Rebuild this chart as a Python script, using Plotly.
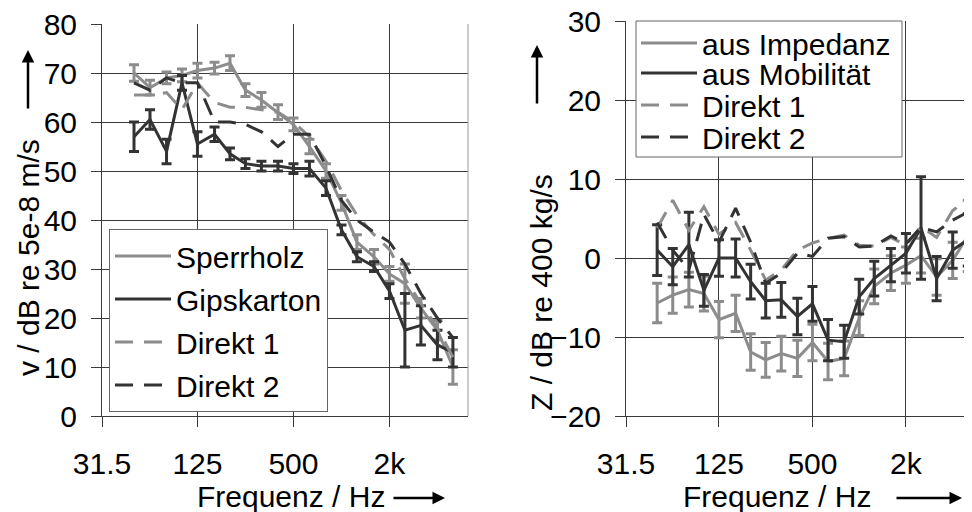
import plotly.graph_objects as go

# third-octave band centre frequencies (Hz)
freq = [50, 63, 80, 100, 125, 160, 200, 250, 315, 400, 500,
        630, 800, 1000, 1250, 1600, 2000, 2500, 3150, 4000, 5000]

# left panel: velocity level v / dB re 5e-8 m/s
sperrholz = [70, 67, 69, 69.5, 70.5, 71, 72, 66.5, 64.5, 62, 59.5,
             55, 50, 43.5, 35.5, 32.5, 29, 27, 22, 17.5, 10]
sperrholz_err = [1.7, 1.5, 1.2, 1.3, 1.5, 1.2, 1.5, 1.3, 1.5, 1.5, 1.3,
                 1.5, 1.5, 1.5, 1.5, 1.5, 1.5, 4, 2, 2, 3.5]
gipskarton = [57, 60.5, 54, 68, 55.5, 57.5, 53.5, 51.5, 51, 51, 50.5,
              50.5, 46.5, 38, 32.5, 30.5, 25.5, 17.5, 18.5, 14.5, 13]
gipskarton_err = [3, 2, 2.5, 1.5, 2.5, 1.5, 1.2, 1, 1, 1, 1,
                  1.5, 1.5, 1, 1, 1, 1.5, 7.5, 4, 3, 3]
direkt1_v = [65.5, 65.5, 66, 62.5, 68, 64, 63, 63, 62.5, 62, 60,
             57, 52, 46, 41, 37, 34, 28, 23, 18, 12]
direkt2_v = [68, 66.5, 69, 68, 68, 60, 60, 59.5, 58, 55, 57.5,
             57.5, 51, 44, 40, 37.5, 35.5, 31, 25, 20, 16]

# right panel: impedance Z / dB re 400 kg/s
aus_impedanz = [-5.7, -4.7, -4.0, -4.5, -7.8, -7.0, -11.9, -12.9, -12.1, -12.7, -10.7,
                -13.1, -12.7, -7.6, -3.6, -1.9, -0.9, 0.3, -2.4, -0.3, 2.8]
aus_impedanz_err = [2.5, 2.3, 2.2, 2.2, 2.3, 2.3, 2.3, 2.2, 2.2, 2.3, 2.3,
                    2.3, 2.2, 2.2, 2.2, 2.2, 2.3, 2.2, 2.3, 2.3, 4.5]
aus_mobilitaet = [1.0, -1.1, 1.7, -4.1, 0, 0, -3.0, -5.4, -5.3, -7.4, -5.8,
                  -10.4, -10.6, -4.9, -2.6, -0.9, 0.6, 3.8, -2.6, 1.0, 2.3]
aus_mobilitaet_err = [3.2, 2.3, 4.1, 2, 2.3, 2.4, 2.2, 2.2, 2.2, 2.3, 2.2,
                      2.6, 2.1, 2.2, 2.2, 2.1, 2.5, 6.5, 2.8, 2.3, 3.3]
direkt1_z = [3.8, 7.3, 3.5, 6.5, 3, 4.5, 1, -2.8, -1.5, 1, 1.9,
             2.5, 2.9, 1.6, 1.5, 2.6, 1.6, 4, 2.6, 6, 7.5]
direkt2_z = [4.5, 1, -1.5, 5.5, 2, 6.3, 2, -3.2, -1.9, 0.6, 0.2,
             2.5, 2.7, 1.4, 1.5, 2.8, 1.8, 3.9, 3.3, 4.8, 5.8]

tick_vals = [31.5, 125, 500, 2000]
tick_text = ['31.5', '125', '500', '2k']

LIGHT = '#8c8c8c'
DARK = '#333333'
FONT = 'Arial, Liberation Sans, sans-serif'
DASH = '18px,11px'
W, H = 972, 512
OFF = 8  # the page body adds an 8px margin, positions below are screen pixels


def px_x(p):
    return (p - OFF) / W


def px_y(p):
    return 1 - (p - OFF) / H


fig = go.Figure()

# left panel traces
fig.add_trace(go.Scatter(x=freq, y=sperrholz, name='Sperrholz', legendgroup='a',
                         line=dict(color=LIGHT, width=3), mode='lines',
                         error_y=dict(type='data', array=sperrholz_err, color=LIGHT,
                                      thickness=3, width=5)))
fig.add_trace(go.Scatter(x=freq, y=gipskarton, name='Gipskarton', legendgroup='b',
                         line=dict(color=DARK, width=3), mode='lines',
                         error_y=dict(type='data', array=gipskarton_err, color=DARK,
                                      thickness=3, width=5)))
fig.add_trace(go.Scatter(x=freq, y=direkt1_v, name='Direkt 1', legendgroup='c',
                         line=dict(color=LIGHT, width=3, dash=DASH), mode='lines'))
fig.add_trace(go.Scatter(x=freq, y=direkt2_v, name='Direkt 2', legendgroup='d',
                         line=dict(color=DARK, width=3, dash=DASH), mode='lines'))

# right panel traces, each in its own legend so the rows can sit tighter
fig.add_trace(go.Scatter(x=freq, y=aus_impedanz, name='aus Impedanz', legend='legend2',
                         xaxis='x2', yaxis='y2',
                         line=dict(color=LIGHT, width=3), mode='lines',
                         error_y=dict(type='data', array=aus_impedanz_err, color=LIGHT,
                                      thickness=3, width=5)))
fig.add_trace(go.Scatter(x=freq, y=aus_mobilitaet, name='aus Mobilität', legend='legend3',
                         xaxis='x2', yaxis='y2',
                         line=dict(color=DARK, width=3), mode='lines',
                         error_y=dict(type='data', array=aus_mobilitaet_err, color=DARK,
                                      thickness=3, width=5)))
fig.add_trace(go.Scatter(x=freq, y=direkt1_z, name='Direkt 1', legend='legend4',
                         xaxis='x2', yaxis='y2',
                         line=dict(color=LIGHT, width=3, dash=DASH), mode='lines'))
fig.add_trace(go.Scatter(x=freq, y=direkt2_z, name='Direkt 2', legend='legend5',
                         xaxis='x2', yaxis='y2',
                         line=dict(color=DARK, width=3, dash=DASH), mode='lines'))

axis_common = dict(showgrid=True, gridcolor='#3a3a3a', gridwidth=1,
                   showline=True, linecolor='#3a3a3a', linewidth=1,
                   ticks='outside', ticklen=10, tickcolor='#3a3a3a',
                   tickfont=dict(family=FONT, size=30, color='black'),
                   ticklabeloverflow='allow',
                   zeroline=False, automargin=False)

xcommon = dict(axis_common, type='log', tickvals=tick_vals, ticktext=tick_text,
               ticklabelstandoff=11)
ycommon = dict(axis_common, ticklabelstandoff=8)

fig.update_layout(
    width=W, height=H,
    margin=dict(l=0, r=0, t=0, b=0, pad=0, autoexpand=False),
    paper_bgcolor='white', plot_bgcolor='white',
    font=dict(family=FONT, size=30, color='black'),
    xaxis=dict(xcommon, domain=[px_x(102), px_x(468)], range=[1.4983, 3.7937]),
    yaxis=dict(ycommon, domain=[px_y(416), px_y(24)], range=[0, 80],
               tickvals=[0, 10, 20, 30, 40, 50, 60, 70, 80]),
    xaxis2=dict(xcommon, domain=[px_x(626), px_x(980)], range=[1.4983, 3.7778],
                anchor='y2'),
    yaxis2=dict(ycommon, domain=[px_y(416), px_y(21)], range=[-20, 30],
                tickvals=[-20, -10, 0, 10, 20, 30], anchor='x2'),
    legend=dict(x=px_x(109), y=px_y(229), xanchor='left', yanchor='top',
                bgcolor='white', bordercolor='#666', borderwidth=1,
                font=dict(family=FONT, size=30), itemwidth=56,
                traceorder='grouped', tracegroupgap=1),
    showlegend=True,
)

right_rows = [43, 73, 105, 137]
for name, row in zip(['legend2', 'legend3', 'legend4', 'legend5'], right_rows):
    fig.update_layout({name: dict(x=px_x(636), y=px_y(row), xanchor='left', yanchor='middle',
                                  bgcolor='rgba(0,0,0,0)', borderwidth=0,
                                  font=dict(family=FONT, size=30), itemwidth=56)})

# right legend box, right border of left panel
fig.add_shape(type='rect', xref='paper', yref='paper',
              x0=px_x(636), x1=px_x(902), y0=px_y(157), y1=px_y(21),
              fillcolor='white', line=dict(color='#666', width=1), layer='above')
fig.add_shape(type='line', xref='paper', yref='paper',
              x0=px_x(468), x1=px_x(468), y0=px_y(416), y1=px_y(24),
              line=dict(color='#999', width=1))

# axis titles
titles = [('v / dB re 5e-8 m/s', 28, 258, -90, 30),
          ('Z / dB re 400 kg/s', 541, 293, -90, 30),
          ('Frequenz / Hz', 291, 496, 0, 30),
          ('Frequenz / Hz', 777, 496, 0, 30)]
for text, tx, ty, angle, size in titles:
    fig.add_annotation(text=text, xref='paper', yref='paper',
                       x=px_x(tx), y=px_y(ty), xanchor='center', yanchor='middle',
                       textangle=angle, showarrow=False,
                       font=dict(family=FONT, size=size))

# direction arrows
arrows = [(28, 50, 0, 60), (537, 45, 0, 60), (445, 498, -53, 0), (962, 498, -67, 0)]
for hx, hy, ax, ay in arrows:
    fig.add_annotation(text='', xref='paper', yref='paper', x=px_x(hx), y=px_y(hy),
                       ax=ax, ay=ay, showarrow=True, arrowhead=2, arrowsize=1,
                       arrowwidth=2.5, arrowcolor='black')

fig.write_html("out.html")
